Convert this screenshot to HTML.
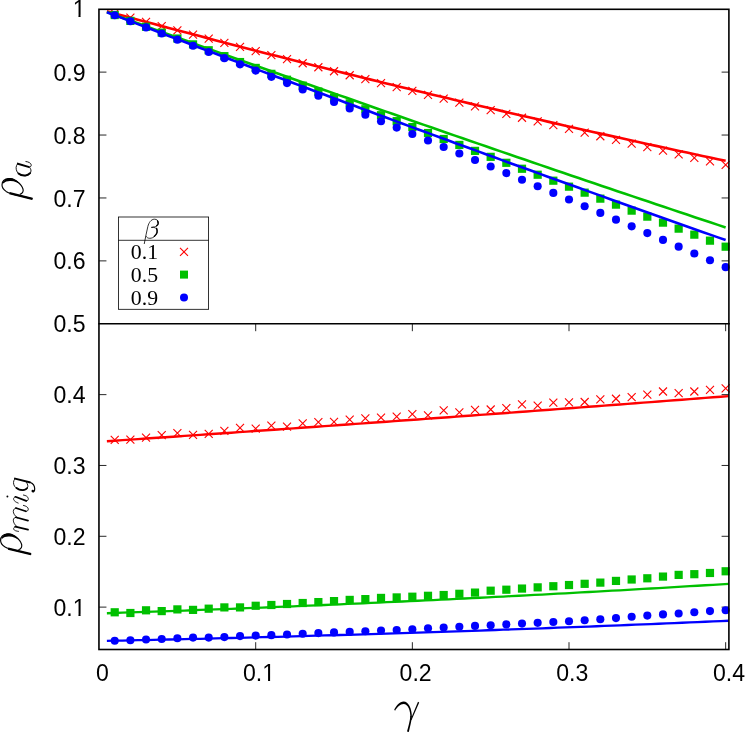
<!DOCTYPE html>
<html><head><meta charset="utf-8"><title>chart</title>
<style>html,body{margin:0;padding:0;background:#fff;overflow:hidden}svg{display:block;will-change:transform}</style>
</head><body>
<svg width="747" height="734" viewBox="0 0 747 734">
<rect width="747" height="734" fill="#fff"/>
<g stroke="#000" stroke-width="0.85" fill="none">
<path d="M99.05 72.12h7.4M729.00 72.12h-7.4"/>
<path d="M99.05 135.04h7.4M729.00 135.04h-7.4"/>
<path d="M99.05 197.96h7.4M729.00 197.96h-7.4"/>
<path d="M99.05 260.88h7.4M729.00 260.88h-7.4"/>
<path d="M99.05 394.63h7.4M729.00 394.63h-7.4"/>
<path d="M99.05 465.46h7.4M729.00 465.46h-7.4"/>
<path d="M99.05 536.29h7.4M729.00 536.29h-7.4"/>
<path d="M99.05 607.12h7.4M729.00 607.12h-7.4"/>
<path d="M255.70 649.60v-7.4M255.70 323.80v7.4"/>
<path d="M412.35 649.60v-7.4M412.35 323.80v7.4"/>
<path d="M569.00 649.60v-7.4M569.00 323.80v7.4"/>
<path d="M725.65 649.60v-7.4M725.65 323.80v7.4"/>
</g>
<polyline points="106.88,11.33 114.62,13.42 122.35,15.51 130.09,17.60 137.82,19.68 145.56,21.75 153.29,23.82 161.02,25.88 168.76,27.94 176.49,29.99 184.23,32.03 191.96,34.07 199.70,36.10 207.43,38.13 215.17,40.15 222.90,42.17 230.64,44.18 238.37,46.18 246.11,48.18 253.84,50.17 261.57,52.16 269.31,54.14 277.04,56.11 284.78,58.08 292.51,60.05 300.25,62.00 307.98,63.96 315.72,65.90 323.45,67.84 331.19,69.78 338.92,71.71 346.65,73.63 354.39,75.55 362.12,77.46 369.86,79.37 377.59,81.27 385.33,83.16 393.06,85.05 400.80,86.94 408.53,88.81 416.27,90.68 424.00,92.55 431.74,94.41 439.47,96.27 447.20,98.11 454.94,99.96 462.67,101.79 470.41,103.63 478.14,105.45 485.88,107.27 493.61,109.09 501.35,110.89 509.08,112.70 516.82,114.49 524.55,116.28 532.29,118.07 540.02,119.85 547.75,121.62 555.49,123.39 563.22,125.15 570.96,126.91 578.69,128.66 586.43,130.41 594.16,132.15 601.90,133.88 609.63,135.61 617.37,137.33 625.10,139.05 632.83,140.76 640.57,142.46 648.30,144.16 656.04,145.86 663.77,147.54 671.51,149.22 679.24,150.90 686.98,152.57 694.71,154.24 702.45,155.90 710.18,157.55 717.92,159.20 725.65,160.84" fill="none" stroke="#ff0000" stroke-width="2.60" stroke-linecap="butt" stroke-linejoin="round"/>
<path d="M110.72 9.48L118.72 17.48M110.72 17.48L118.72 9.48" stroke="#ff0000" stroke-width="1.10" fill="none"/>
<path d="M126.38 13.73L134.38 21.73M126.38 21.73L134.38 13.73" stroke="#ff0000" stroke-width="1.10" fill="none"/>
<path d="M142.04 17.97L150.04 25.97M142.04 25.97L150.04 17.97" stroke="#ff0000" stroke-width="1.10" fill="none"/>
<path d="M157.71 22.18L165.71 30.18M157.71 30.18L165.71 22.18" stroke="#ff0000" stroke-width="1.10" fill="none"/>
<path d="M173.38 26.38L181.38 34.38M173.38 34.38L181.38 26.38" stroke="#ff0000" stroke-width="1.10" fill="none"/>
<path d="M189.04 30.56L197.04 38.56M189.04 38.56L197.04 30.56" stroke="#ff0000" stroke-width="1.10" fill="none"/>
<path d="M204.71 34.71L212.71 42.71M204.71 42.71L212.71 34.71" stroke="#ff0000" stroke-width="1.10" fill="none"/>
<path d="M220.37 38.85L228.37 46.85M220.37 46.85L228.37 38.85" stroke="#ff0000" stroke-width="1.10" fill="none"/>
<path d="M236.03 42.97L244.03 50.97M236.03 50.97L244.03 42.97" stroke="#ff0000" stroke-width="1.10" fill="none"/>
<path d="M251.70 47.07L259.70 55.07M251.70 55.07L259.70 47.07" stroke="#ff0000" stroke-width="1.10" fill="none"/>
<path d="M267.37 51.15L275.37 59.15M267.37 59.15L275.37 51.15" stroke="#ff0000" stroke-width="1.10" fill="none"/>
<path d="M283.03 55.20L291.03 63.20M283.03 63.20L291.03 55.20" stroke="#ff0000" stroke-width="1.10" fill="none"/>
<path d="M298.69 59.24L306.69 67.24M298.69 67.24L306.69 59.24" stroke="#ff0000" stroke-width="1.10" fill="none"/>
<path d="M314.36 63.26L322.36 71.26M314.36 71.26L322.36 63.26" stroke="#ff0000" stroke-width="1.10" fill="none"/>
<path d="M330.02 67.26L338.02 75.26M330.02 75.26L338.02 67.26" stroke="#ff0000" stroke-width="1.10" fill="none"/>
<path d="M345.69 71.24L353.69 79.24M345.69 79.24L353.69 71.24" stroke="#ff0000" stroke-width="1.10" fill="none"/>
<path d="M361.36 75.21L369.36 83.21M361.36 83.21L369.36 75.21" stroke="#ff0000" stroke-width="1.10" fill="none"/>
<path d="M377.02 79.15L385.02 87.15M377.02 87.15L385.02 79.15" stroke="#ff0000" stroke-width="1.10" fill="none"/>
<path d="M392.69 83.07L400.69 91.07M392.69 91.07L400.69 83.07" stroke="#ff0000" stroke-width="1.10" fill="none"/>
<path d="M408.35 86.97L416.35 94.97M408.35 94.97L416.35 86.97" stroke="#ff0000" stroke-width="1.10" fill="none"/>
<path d="M424.01 90.85L432.01 98.85M424.01 98.85L432.01 90.85" stroke="#ff0000" stroke-width="1.10" fill="none"/>
<path d="M439.68 94.72L447.68 102.72M439.68 102.72L447.68 94.72" stroke="#ff0000" stroke-width="1.10" fill="none"/>
<path d="M455.35 98.56L463.35 106.56M455.35 106.56L463.35 98.56" stroke="#ff0000" stroke-width="1.10" fill="none"/>
<path d="M471.01 102.38L479.01 110.38M471.01 110.38L479.01 102.38" stroke="#ff0000" stroke-width="1.10" fill="none"/>
<path d="M486.68 106.19L494.68 114.19M486.68 114.19L494.68 106.19" stroke="#ff0000" stroke-width="1.10" fill="none"/>
<path d="M502.34 109.97L510.34 117.97M502.34 117.97L510.34 109.97" stroke="#ff0000" stroke-width="1.10" fill="none"/>
<path d="M518.00 113.74L526.00 121.74M518.00 121.74L526.00 113.74" stroke="#ff0000" stroke-width="1.10" fill="none"/>
<path d="M533.67 117.48L541.67 125.48M533.67 125.48L541.67 117.48" stroke="#ff0000" stroke-width="1.10" fill="none"/>
<path d="M549.33 121.21L557.33 129.21M549.33 129.21L557.33 121.21" stroke="#ff0000" stroke-width="1.10" fill="none"/>
<path d="M565.00 124.91L573.00 132.91M565.00 132.91L573.00 124.91" stroke="#ff0000" stroke-width="1.10" fill="none"/>
<path d="M580.66 128.60L588.66 136.60M580.66 136.60L588.66 128.60" stroke="#ff0000" stroke-width="1.10" fill="none"/>
<path d="M596.33 132.26L604.33 140.26M596.33 140.26L604.33 132.26" stroke="#ff0000" stroke-width="1.10" fill="none"/>
<path d="M612.00 135.91L620.00 143.91M612.00 143.91L620.00 135.91" stroke="#ff0000" stroke-width="1.10" fill="none"/>
<path d="M627.66 139.54L635.66 147.54M627.66 147.54L635.66 139.54" stroke="#ff0000" stroke-width="1.10" fill="none"/>
<path d="M643.32 143.15L651.32 151.15M643.32 151.15L651.32 143.15" stroke="#ff0000" stroke-width="1.10" fill="none"/>
<path d="M658.99 146.73L666.99 154.73M658.99 154.73L666.99 146.73" stroke="#ff0000" stroke-width="1.10" fill="none"/>
<path d="M674.65 150.30L682.65 158.30M674.65 158.30L682.65 150.30" stroke="#ff0000" stroke-width="1.10" fill="none"/>
<path d="M690.32 153.85L698.32 161.85M690.32 161.85L698.32 153.85" stroke="#ff0000" stroke-width="1.10" fill="none"/>
<path d="M705.99 157.38L713.99 165.38M705.99 165.38L713.99 157.38" stroke="#ff0000" stroke-width="1.10" fill="none"/>
<path d="M721.65 160.89L729.65 168.89M721.65 168.89L729.65 160.89" stroke="#ff0000" stroke-width="1.10" fill="none"/>
<polyline points="106.88,12.05 114.62,14.86 122.35,17.67 130.09,20.48 137.82,23.28 145.56,26.08 153.29,28.88 161.02,31.68 168.76,34.47 176.49,37.25 184.23,40.04 191.96,42.82 199.70,45.60 207.43,48.38 215.17,51.15 222.90,53.92 230.64,56.69 238.37,59.45 246.11,62.21 253.84,64.97 261.57,67.72 269.31,70.48 277.04,73.23 284.78,75.97 292.51,78.71 300.25,81.45 307.98,84.19 315.72,86.92 323.45,89.65 331.19,92.38 338.92,95.11 346.65,97.83 354.39,100.55 362.12,103.26 369.86,105.97 377.59,108.68 385.33,111.39 393.06,114.09 400.80,116.79 408.53,119.49 416.27,122.18 424.00,124.87 431.74,127.56 439.47,130.25 447.20,132.93 454.94,135.61 462.67,138.28 470.41,140.96 478.14,143.63 485.88,146.29 493.61,148.96 501.35,151.62 509.08,154.28 516.82,156.93 524.55,159.58 532.29,162.23 540.02,164.88 547.75,167.52 555.49,170.16 563.22,172.79 570.96,175.43 578.69,178.06 586.43,180.69 594.16,183.31 601.90,185.93 609.63,188.55 617.37,191.16 625.10,193.78 632.83,196.39 640.57,198.99 648.30,201.59 656.04,204.19 663.77,206.79 671.51,209.38 679.24,211.98 686.98,214.56 694.71,217.15 702.45,219.73 710.18,222.31 717.92,224.88 725.65,227.46" fill="none" stroke="#00c000" stroke-width="2.60" stroke-linecap="butt" stroke-linejoin="round"/>
<rect x="110.62" y="10.95" width="8.20" height="8.20" fill="#00c000"/>
<rect x="126.28" y="16.81" width="8.20" height="8.20" fill="#00c000"/>
<rect x="141.94" y="22.67" width="8.20" height="8.20" fill="#00c000"/>
<rect x="157.61" y="28.54" width="8.20" height="8.20" fill="#00c000"/>
<rect x="173.28" y="34.41" width="8.20" height="8.20" fill="#00c000"/>
<rect x="188.94" y="40.29" width="8.20" height="8.20" fill="#00c000"/>
<rect x="204.61" y="46.17" width="8.20" height="8.20" fill="#00c000"/>
<rect x="220.27" y="52.05" width="8.20" height="8.20" fill="#00c000"/>
<rect x="235.93" y="57.94" width="8.20" height="8.20" fill="#00c000"/>
<rect x="251.60" y="63.83" width="8.20" height="8.20" fill="#00c000"/>
<rect x="267.26" y="69.73" width="8.20" height="8.20" fill="#00c000"/>
<rect x="282.93" y="75.63" width="8.20" height="8.20" fill="#00c000"/>
<rect x="298.59" y="81.53" width="8.20" height="8.20" fill="#00c000"/>
<rect x="314.26" y="87.44" width="8.20" height="8.20" fill="#00c000"/>
<rect x="329.92" y="93.35" width="8.20" height="8.20" fill="#00c000"/>
<rect x="345.59" y="99.27" width="8.20" height="8.20" fill="#00c000"/>
<rect x="361.25" y="105.19" width="8.20" height="8.20" fill="#00c000"/>
<rect x="376.92" y="111.12" width="8.20" height="8.20" fill="#00c000"/>
<rect x="392.58" y="117.05" width="8.20" height="8.20" fill="#00c000"/>
<rect x="408.25" y="122.99" width="8.20" height="8.20" fill="#00c000"/>
<rect x="423.91" y="128.93" width="8.20" height="8.20" fill="#00c000"/>
<rect x="439.58" y="134.87" width="8.20" height="8.20" fill="#00c000"/>
<rect x="455.25" y="140.82" width="8.20" height="8.20" fill="#00c000"/>
<rect x="470.91" y="146.77" width="8.20" height="8.20" fill="#00c000"/>
<rect x="486.57" y="152.73" width="8.20" height="8.20" fill="#00c000"/>
<rect x="502.24" y="158.69" width="8.20" height="8.20" fill="#00c000"/>
<rect x="517.90" y="164.65" width="8.20" height="8.20" fill="#00c000"/>
<rect x="533.57" y="170.62" width="8.20" height="8.20" fill="#00c000"/>
<rect x="549.23" y="176.59" width="8.20" height="8.20" fill="#00c000"/>
<rect x="564.90" y="182.57" width="8.20" height="8.20" fill="#00c000"/>
<rect x="580.56" y="188.55" width="8.20" height="8.20" fill="#00c000"/>
<rect x="596.23" y="194.54" width="8.20" height="8.20" fill="#00c000"/>
<rect x="611.89" y="200.53" width="8.20" height="8.20" fill="#00c000"/>
<rect x="627.56" y="206.53" width="8.20" height="8.20" fill="#00c000"/>
<rect x="643.22" y="212.53" width="8.20" height="8.20" fill="#00c000"/>
<rect x="658.89" y="218.53" width="8.20" height="8.20" fill="#00c000"/>
<rect x="674.55" y="224.54" width="8.20" height="8.20" fill="#00c000"/>
<rect x="690.22" y="230.55" width="8.20" height="8.20" fill="#00c000"/>
<rect x="705.88" y="236.56" width="8.20" height="8.20" fill="#00c000"/>
<rect x="721.55" y="242.59" width="8.20" height="8.20" fill="#00c000"/>
<polyline points="106.88,12.22 114.62,15.19 122.35,18.16 130.09,21.13 137.82,24.09 145.56,27.06 153.29,30.01 161.02,32.97 168.76,35.92 176.49,38.87 184.23,41.82 191.96,44.76 199.70,47.70 207.43,50.63 215.17,53.57 222.90,56.50 230.64,59.42 238.37,62.35 246.11,65.27 253.84,68.18 261.57,71.10 269.31,74.01 277.04,76.92 284.78,79.82 292.51,82.72 300.25,85.62 307.98,88.51 315.72,91.41 323.45,94.29 331.19,97.18 338.92,100.06 346.65,102.94 354.39,105.82 362.12,108.69 369.86,111.56 377.59,114.42 385.33,117.29 393.06,120.15 400.80,123.00 408.53,125.86 416.27,128.71 424.00,131.55 431.74,134.40 439.47,137.24 447.20,140.07 454.94,142.91 462.67,145.74 470.41,148.57 478.14,151.39 485.88,154.21 493.61,157.03 501.35,159.85 509.08,162.66 516.82,165.47 524.55,168.27 532.29,171.07 540.02,173.87 547.75,176.67 555.49,179.46 563.22,182.25 570.96,185.04 578.69,187.82 586.43,190.60 594.16,193.38 601.90,196.15 609.63,198.92 617.37,201.69 625.10,204.45 632.83,207.21 640.57,209.97 648.30,212.72 656.04,215.47 663.77,218.22 671.51,220.97 679.24,223.71 686.98,226.45 694.71,229.18 702.45,231.91 710.18,234.64 717.92,237.37 725.65,240.09" fill="none" stroke="#0000ff" stroke-width="2.60" stroke-linecap="butt" stroke-linejoin="round"/>
<circle cx="114.72" cy="15.24" r="4.05" fill="#0000ff"/>
<circle cx="130.38" cy="21.31" r="4.05" fill="#0000ff"/>
<circle cx="146.04" cy="27.40" r="4.05" fill="#0000ff"/>
<circle cx="161.71" cy="33.50" r="4.05" fill="#0000ff"/>
<circle cx="177.38" cy="39.63" r="4.05" fill="#0000ff"/>
<circle cx="193.04" cy="45.78" r="4.05" fill="#0000ff"/>
<circle cx="208.71" cy="51.95" r="4.05" fill="#0000ff"/>
<circle cx="224.37" cy="58.14" r="4.05" fill="#0000ff"/>
<circle cx="240.03" cy="64.35" r="4.05" fill="#0000ff"/>
<circle cx="255.70" cy="70.58" r="4.05" fill="#0000ff"/>
<circle cx="271.37" cy="76.83" r="4.05" fill="#0000ff"/>
<circle cx="287.03" cy="83.10" r="4.05" fill="#0000ff"/>
<circle cx="302.69" cy="89.40" r="4.05" fill="#0000ff"/>
<circle cx="318.36" cy="95.71" r="4.05" fill="#0000ff"/>
<circle cx="334.02" cy="102.05" r="4.05" fill="#0000ff"/>
<circle cx="349.69" cy="108.40" r="4.05" fill="#0000ff"/>
<circle cx="365.36" cy="114.78" r="4.05" fill="#0000ff"/>
<circle cx="381.02" cy="121.18" r="4.05" fill="#0000ff"/>
<circle cx="396.69" cy="127.59" r="4.05" fill="#0000ff"/>
<circle cx="412.35" cy="134.03" r="4.05" fill="#0000ff"/>
<circle cx="428.01" cy="140.49" r="4.05" fill="#0000ff"/>
<circle cx="443.68" cy="146.97" r="4.05" fill="#0000ff"/>
<circle cx="459.35" cy="153.47" r="4.05" fill="#0000ff"/>
<circle cx="475.01" cy="160.00" r="4.05" fill="#0000ff"/>
<circle cx="490.68" cy="166.54" r="4.05" fill="#0000ff"/>
<circle cx="506.34" cy="173.10" r="4.05" fill="#0000ff"/>
<circle cx="522.00" cy="179.69" r="4.05" fill="#0000ff"/>
<circle cx="537.67" cy="186.29" r="4.05" fill="#0000ff"/>
<circle cx="553.33" cy="192.92" r="4.05" fill="#0000ff"/>
<circle cx="569.00" cy="199.56" r="4.05" fill="#0000ff"/>
<circle cx="584.66" cy="206.23" r="4.05" fill="#0000ff"/>
<circle cx="600.33" cy="212.92" r="4.05" fill="#0000ff"/>
<circle cx="616.00" cy="219.63" r="4.05" fill="#0000ff"/>
<circle cx="631.66" cy="226.36" r="4.05" fill="#0000ff"/>
<circle cx="647.32" cy="233.11" r="4.05" fill="#0000ff"/>
<circle cx="662.99" cy="239.88" r="4.05" fill="#0000ff"/>
<circle cx="678.65" cy="246.67" r="4.05" fill="#0000ff"/>
<circle cx="694.32" cy="253.48" r="4.05" fill="#0000ff"/>
<circle cx="709.99" cy="260.32" r="4.05" fill="#0000ff"/>
<circle cx="725.65" cy="267.17" r="4.05" fill="#0000ff"/>
<polyline points="106.88,441.20 114.65,440.68 122.43,440.15 130.20,439.63 137.97,439.10 145.74,438.57 153.51,438.04 161.29,437.51 169.06,436.98 176.83,436.45 184.60,435.91 192.37,435.38 200.14,434.84 207.92,434.31 215.69,433.77 223.46,433.23 231.23,432.69 239.00,432.15 246.77,431.61 254.55,431.06 262.32,430.52 270.09,429.98 277.86,429.43 285.63,428.88 293.41,428.34 301.18,427.79 308.95,427.24 316.72,426.69 324.49,426.14 332.26,425.58 340.04,425.03 347.81,424.48 355.58,423.92 363.35,423.36 371.12,422.81 378.90,422.25 386.67,421.69 394.44,421.13 402.21,420.57 409.98,420.01 417.75,419.44 425.53,418.88 433.30,418.31 441.07,417.75 448.84,417.18 456.61,416.61 464.39,416.04 472.16,415.47 479.93,414.90 487.70,414.33 495.47,413.75 503.24,413.18 511.02,412.60 518.79,412.03 526.56,411.45 534.33,410.87 542.10,410.29 549.87,409.71 557.65,409.13 565.42,408.55 573.19,407.97 580.96,407.38 588.73,406.80 596.51,406.21 604.28,405.62 612.05,405.04 619.82,404.45 627.59,403.86 635.36,403.27 643.14,402.67 650.91,402.08 658.68,401.49 666.45,400.89 674.22,400.30 682.00,399.70 689.77,399.10 697.54,398.50 705.31,397.90 713.08,397.30 720.85,396.70 728.63,396.10" fill="none" stroke="#ff0000" stroke-width="2.40" stroke-linecap="butt" stroke-linejoin="round"/>
<path d="M110.72 435.96L118.72 443.96M110.72 443.96L118.72 435.96" stroke="#ff0000" stroke-width="1.10" fill="none"/>
<path d="M126.38 435.54L134.38 443.54M126.38 443.54L134.38 435.54" stroke="#ff0000" stroke-width="1.10" fill="none"/>
<path d="M142.04 433.55L150.04 441.55M142.04 441.55L150.04 433.55" stroke="#ff0000" stroke-width="1.10" fill="none"/>
<path d="M157.71 431.14L165.71 439.14M157.71 439.14L165.71 431.14" stroke="#ff0000" stroke-width="1.10" fill="none"/>
<path d="M173.38 429.23L181.38 437.23M173.38 437.23L181.38 429.23" stroke="#ff0000" stroke-width="1.10" fill="none"/>
<path d="M189.04 430.93L197.04 438.93M189.04 438.93L197.04 430.93" stroke="#ff0000" stroke-width="1.10" fill="none"/>
<path d="M204.71 429.94L212.71 437.94M204.71 437.94L212.71 429.94" stroke="#ff0000" stroke-width="1.10" fill="none"/>
<path d="M220.37 426.82L228.37 434.82M220.37 434.82L228.37 426.82" stroke="#ff0000" stroke-width="1.10" fill="none"/>
<path d="M236.03 423.92L244.03 431.92M236.03 431.92L244.03 423.92" stroke="#ff0000" stroke-width="1.10" fill="none"/>
<path d="M251.70 424.63L259.70 432.63M251.70 432.63L259.70 424.63" stroke="#ff0000" stroke-width="1.10" fill="none"/>
<path d="M267.37 421.65L275.37 429.65M267.37 429.65L275.37 421.65" stroke="#ff0000" stroke-width="1.10" fill="none"/>
<path d="M283.03 422.65L291.03 430.65M283.03 430.65L291.03 422.65" stroke="#ff0000" stroke-width="1.10" fill="none"/>
<path d="M298.69 419.32L306.69 427.32M298.69 427.32L306.69 419.32" stroke="#ff0000" stroke-width="1.10" fill="none"/>
<path d="M314.36 418.04L322.36 426.04M314.36 426.04L322.36 418.04" stroke="#ff0000" stroke-width="1.10" fill="none"/>
<path d="M330.02 417.83L338.02 425.83M330.02 425.83L338.02 417.83" stroke="#ff0000" stroke-width="1.10" fill="none"/>
<path d="M345.69 415.63L353.69 423.63M345.69 423.63L353.69 415.63" stroke="#ff0000" stroke-width="1.10" fill="none"/>
<path d="M361.36 414.43L369.36 422.43M361.36 422.43L369.36 414.43" stroke="#ff0000" stroke-width="1.10" fill="none"/>
<path d="M377.02 413.72L385.02 421.72M377.02 421.72L385.02 413.72" stroke="#ff0000" stroke-width="1.10" fill="none"/>
<path d="M392.69 412.52L400.69 420.52M392.69 420.52L400.69 412.52" stroke="#ff0000" stroke-width="1.10" fill="none"/>
<path d="M408.35 410.11L416.35 418.11M408.35 418.11L416.35 410.11" stroke="#ff0000" stroke-width="1.10" fill="none"/>
<path d="M424.01 411.45L432.01 419.45M424.01 419.45L432.01 411.45" stroke="#ff0000" stroke-width="1.10" fill="none"/>
<path d="M439.68 406.43L447.68 414.43M439.68 414.43L447.68 406.43" stroke="#ff0000" stroke-width="1.10" fill="none"/>
<path d="M455.35 408.34L463.35 416.34M455.35 416.34L463.35 408.34" stroke="#ff0000" stroke-width="1.10" fill="none"/>
<path d="M471.01 405.93L479.01 413.93M471.01 413.93L479.01 405.93" stroke="#ff0000" stroke-width="1.10" fill="none"/>
<path d="M486.68 405.50L494.68 413.50M486.68 413.50L494.68 405.50" stroke="#ff0000" stroke-width="1.10" fill="none"/>
<path d="M502.34 404.02L510.34 412.02M502.34 412.02L510.34 404.02" stroke="#ff0000" stroke-width="1.10" fill="none"/>
<path d="M518.00 400.40L526.00 408.40M518.00 408.40L526.00 400.40" stroke="#ff0000" stroke-width="1.10" fill="none"/>
<path d="M533.67 401.61L541.67 409.61M533.67 409.61L541.67 401.61" stroke="#ff0000" stroke-width="1.10" fill="none"/>
<path d="M549.33 398.70L557.33 406.70M549.33 406.70L557.33 398.70" stroke="#ff0000" stroke-width="1.10" fill="none"/>
<path d="M565.00 398.28L573.00 406.28M565.00 406.28L573.00 398.28" stroke="#ff0000" stroke-width="1.10" fill="none"/>
<path d="M580.66 398.00L588.66 406.00M580.66 406.00L588.66 398.00" stroke="#ff0000" stroke-width="1.10" fill="none"/>
<path d="M596.33 395.38L604.33 403.38M596.33 403.38L604.33 395.38" stroke="#ff0000" stroke-width="1.10" fill="none"/>
<path d="M612.00 394.74L620.00 402.74M612.00 402.74L620.00 394.74" stroke="#ff0000" stroke-width="1.10" fill="none"/>
<path d="M627.66 393.04L635.66 401.04M627.66 401.04L635.66 393.04" stroke="#ff0000" stroke-width="1.10" fill="none"/>
<path d="M643.32 390.63L651.32 398.63M643.32 398.63L651.32 390.63" stroke="#ff0000" stroke-width="1.10" fill="none"/>
<path d="M658.99 387.51L666.99 395.51M658.99 395.51L666.99 387.51" stroke="#ff0000" stroke-width="1.10" fill="none"/>
<path d="M674.65 389.21L682.65 397.21M674.65 397.21L682.65 389.21" stroke="#ff0000" stroke-width="1.10" fill="none"/>
<path d="M690.32 387.51L698.32 395.51M690.32 395.51L698.32 387.51" stroke="#ff0000" stroke-width="1.10" fill="none"/>
<path d="M705.99 385.81L713.99 393.81M705.99 393.81L713.99 385.81" stroke="#ff0000" stroke-width="1.10" fill="none"/>
<path d="M721.65 384.40L729.65 392.40M721.65 392.40L729.65 384.40" stroke="#ff0000" stroke-width="1.10" fill="none"/>
<polyline points="106.88,613.24 114.65,612.98 122.43,612.72 130.20,612.46 137.97,612.19 145.74,611.92 153.51,611.65 161.29,611.38 169.06,611.10 176.83,610.82 184.60,610.54 192.37,610.26 200.14,609.97 207.92,609.68 215.69,609.38 223.46,609.09 231.23,608.79 239.00,608.49 246.77,608.18 254.55,607.87 262.32,607.56 270.09,607.25 277.86,606.94 285.63,606.62 293.41,606.30 301.18,605.97 308.95,605.64 316.72,605.31 324.49,604.98 332.26,604.65 340.04,604.31 347.81,603.97 355.58,603.62 363.35,603.28 371.12,602.93 378.90,602.58 386.67,602.22 394.44,601.86 402.21,601.50 409.98,601.14 417.75,600.77 425.53,600.41 433.30,600.03 441.07,599.66 448.84,599.28 456.61,598.90 464.39,598.52 472.16,598.13 479.93,597.75 487.70,597.35 495.47,596.96 503.24,596.56 511.02,596.16 518.79,595.76 526.56,595.36 534.33,594.95 542.10,594.54 549.87,594.12 557.65,593.71 565.42,593.29 573.19,592.87 580.96,592.44 588.73,592.02 596.51,591.59 604.28,591.15 612.05,590.72 619.82,590.28 627.59,589.84 635.36,589.39 643.14,588.95 650.91,588.50 658.68,588.04 666.45,587.59 674.22,587.13 682.00,586.67 689.77,586.21 697.54,585.74 705.31,585.27 713.08,584.80 720.85,584.32 728.63,583.85" fill="none" stroke="#00c000" stroke-width="2.30" stroke-linecap="butt" stroke-linejoin="round"/>
<rect x="110.62" y="608.19" width="8.20" height="8.20" fill="#00c000"/>
<rect x="126.28" y="608.90" width="8.20" height="8.20" fill="#00c000"/>
<rect x="141.94" y="606.21" width="8.20" height="8.20" fill="#00c000"/>
<rect x="157.61" y="606.99" width="8.20" height="8.20" fill="#00c000"/>
<rect x="173.28" y="605.29" width="8.20" height="8.20" fill="#00c000"/>
<rect x="188.94" y="605.78" width="8.20" height="8.20" fill="#00c000"/>
<rect x="204.61" y="604.58" width="8.20" height="8.20" fill="#00c000"/>
<rect x="220.27" y="603.30" width="8.20" height="8.20" fill="#00c000"/>
<rect x="235.93" y="603.30" width="8.20" height="8.20" fill="#00c000"/>
<rect x="251.60" y="601.67" width="8.20" height="8.20" fill="#00c000"/>
<rect x="267.26" y="600.90" width="8.20" height="8.20" fill="#00c000"/>
<rect x="282.93" y="599.90" width="8.20" height="8.20" fill="#00c000"/>
<rect x="298.59" y="598.91" width="8.20" height="8.20" fill="#00c000"/>
<rect x="314.26" y="597.99" width="8.20" height="8.20" fill="#00c000"/>
<rect x="329.92" y="597.00" width="8.20" height="8.20" fill="#00c000"/>
<rect x="345.59" y="595.80" width="8.20" height="8.20" fill="#00c000"/>
<rect x="361.25" y="595.02" width="8.20" height="8.20" fill="#00c000"/>
<rect x="376.92" y="593.81" width="8.20" height="8.20" fill="#00c000"/>
<rect x="392.58" y="593.32" width="8.20" height="8.20" fill="#00c000"/>
<rect x="408.25" y="592.61" width="8.20" height="8.20" fill="#00c000"/>
<rect x="423.91" y="591.69" width="8.20" height="8.20" fill="#00c000"/>
<rect x="439.58" y="590.91" width="8.20" height="8.20" fill="#00c000"/>
<rect x="455.25" y="589.70" width="8.20" height="8.20" fill="#00c000"/>
<rect x="470.91" y="588.50" width="8.20" height="8.20" fill="#00c000"/>
<rect x="486.57" y="586.59" width="8.20" height="8.20" fill="#00c000"/>
<rect x="502.24" y="585.60" width="8.20" height="8.20" fill="#00c000"/>
<rect x="517.90" y="584.46" width="8.20" height="8.20" fill="#00c000"/>
<rect x="533.57" y="583.26" width="8.20" height="8.20" fill="#00c000"/>
<rect x="549.23" y="582.13" width="8.20" height="8.20" fill="#00c000"/>
<rect x="564.90" y="580.92" width="8.20" height="8.20" fill="#00c000"/>
<rect x="580.56" y="579.72" width="8.20" height="8.20" fill="#00c000"/>
<rect x="596.23" y="578.51" width="8.20" height="8.20" fill="#00c000"/>
<rect x="611.89" y="576.81" width="8.20" height="8.20" fill="#00c000"/>
<rect x="627.56" y="575.40" width="8.20" height="8.20" fill="#00c000"/>
<rect x="643.22" y="574.19" width="8.20" height="8.20" fill="#00c000"/>
<rect x="658.89" y="572.49" width="8.20" height="8.20" fill="#00c000"/>
<rect x="674.55" y="570.79" width="8.20" height="8.20" fill="#00c000"/>
<rect x="690.22" y="570.08" width="8.20" height="8.20" fill="#00c000"/>
<rect x="705.88" y="568.88" width="8.20" height="8.20" fill="#00c000"/>
<rect x="721.55" y="567.18" width="8.20" height="8.20" fill="#00c000"/>
<polyline points="106.88,640.89 114.65,640.72 122.43,640.56 130.20,640.39 137.97,640.22 145.74,640.05 153.51,639.87 161.29,639.70 169.06,639.52 176.83,639.34 184.60,639.16 192.37,638.97 200.14,638.78 207.92,638.59 215.69,638.40 223.46,638.21 231.23,638.01 239.00,637.81 246.77,637.61 254.55,637.41 262.32,637.20 270.09,636.99 277.86,636.78 285.63,636.57 293.41,636.36 301.18,636.14 308.95,635.92 316.72,635.70 324.49,635.47 332.26,635.25 340.04,635.02 347.81,634.79 355.58,634.56 363.35,634.32 371.12,634.09 378.90,633.85 386.67,633.61 394.44,633.36 402.21,633.12 409.98,632.87 417.75,632.62 425.53,632.36 433.30,632.11 441.07,631.85 448.84,631.59 456.61,631.33 464.39,631.07 472.16,630.80 479.93,630.53 487.70,630.26 495.47,629.99 503.24,629.71 511.02,629.44 518.79,629.16 526.56,628.87 534.33,628.59 542.10,628.30 549.87,628.02 557.65,627.72 565.42,627.43 573.19,627.14 580.96,626.84 588.73,626.54 596.51,626.24 604.28,625.93 612.05,625.62 619.82,625.32 627.59,625.00 635.36,624.69 643.14,624.38 650.91,624.06 658.68,623.74 666.45,623.42 674.22,623.09 682.00,622.76 689.77,622.44 697.54,622.10 705.31,621.77 713.08,621.43 720.85,621.10 728.63,620.76" fill="none" stroke="#0000ff" stroke-width="2.30" stroke-linecap="butt" stroke-linejoin="round"/>
<circle cx="114.72" cy="640.69" r="4.05" fill="#0000ff"/>
<circle cx="130.38" cy="640.20" r="4.05" fill="#0000ff"/>
<circle cx="146.04" cy="639.49" r="4.05" fill="#0000ff"/>
<circle cx="161.71" cy="638.99" r="4.05" fill="#0000ff"/>
<circle cx="177.38" cy="638.29" r="4.05" fill="#0000ff"/>
<circle cx="193.04" cy="637.58" r="4.05" fill="#0000ff"/>
<circle cx="208.71" cy="637.58" r="4.05" fill="#0000ff"/>
<circle cx="224.37" cy="637.08" r="4.05" fill="#0000ff"/>
<circle cx="240.03" cy="636.09" r="4.05" fill="#0000ff"/>
<circle cx="255.70" cy="635.59" r="4.05" fill="#0000ff"/>
<circle cx="271.37" cy="635.17" r="4.05" fill="#0000ff"/>
<circle cx="287.03" cy="634.46" r="4.05" fill="#0000ff"/>
<circle cx="302.69" cy="633.75" r="4.05" fill="#0000ff"/>
<circle cx="318.36" cy="633.11" r="4.05" fill="#0000ff"/>
<circle cx="334.02" cy="632.41" r="4.05" fill="#0000ff"/>
<circle cx="349.69" cy="631.91" r="4.05" fill="#0000ff"/>
<circle cx="365.36" cy="631.20" r="4.05" fill="#0000ff"/>
<circle cx="381.02" cy="630.49" r="4.05" fill="#0000ff"/>
<circle cx="396.69" cy="630.00" r="4.05" fill="#0000ff"/>
<circle cx="412.35" cy="629.29" r="4.05" fill="#0000ff"/>
<circle cx="428.01" cy="628.30" r="4.05" fill="#0000ff"/>
<circle cx="443.68" cy="627.59" r="4.05" fill="#0000ff"/>
<circle cx="459.35" cy="626.81" r="4.05" fill="#0000ff"/>
<circle cx="475.01" cy="625.89" r="4.05" fill="#0000ff"/>
<circle cx="490.68" cy="625.18" r="4.05" fill="#0000ff"/>
<circle cx="506.34" cy="624.40" r="4.05" fill="#0000ff"/>
<circle cx="522.00" cy="623.62" r="4.05" fill="#0000ff"/>
<circle cx="537.67" cy="622.84" r="4.05" fill="#0000ff"/>
<circle cx="553.33" cy="621.99" r="4.05" fill="#0000ff"/>
<circle cx="569.00" cy="621.22" r="4.05" fill="#0000ff"/>
<circle cx="584.66" cy="620.22" r="4.05" fill="#0000ff"/>
<circle cx="600.33" cy="619.30" r="4.05" fill="#0000ff"/>
<circle cx="616.00" cy="618.10" r="4.05" fill="#0000ff"/>
<circle cx="631.66" cy="616.82" r="4.05" fill="#0000ff"/>
<circle cx="647.32" cy="615.62" r="4.05" fill="#0000ff"/>
<circle cx="662.99" cy="614.42" r="4.05" fill="#0000ff"/>
<circle cx="678.65" cy="613.49" r="4.05" fill="#0000ff"/>
<circle cx="694.32" cy="612.29" r="4.05" fill="#0000ff"/>
<circle cx="709.99" cy="611.09" r="4.05" fill="#0000ff"/>
<circle cx="725.65" cy="610.31" r="4.05" fill="#0000ff"/>
<g stroke="#000" stroke-width="1.6" fill="none" stroke-linecap="square">
<rect x="98.95" y="9.30" width="629.95" height="640.20"/>
<path d="M99.05 323.80H729.00"/>
</g>
<g font-family="'Liberation Sans', sans-serif" font-size="24.2" fill="#000">
<text transform="translate(85.6,16.60) scale(0.954,1)" text-anchor="end">1</text>
<text transform="translate(85.6,80.72) scale(0.954,1)" text-anchor="end">0.9</text>
<text transform="translate(85.6,143.64) scale(0.954,1)" text-anchor="end">0.8</text>
<text transform="translate(85.6,206.56) scale(0.954,1)" text-anchor="end">0.7</text>
<text transform="translate(85.6,269.48) scale(0.954,1)" text-anchor="end">0.6</text>
<text transform="translate(85.6,332.40) scale(0.954,1)" text-anchor="end">0.5</text>
<text transform="translate(85.6,403.23) scale(0.954,1)" text-anchor="end">0.4</text>
<text transform="translate(85.6,474.06) scale(0.954,1)" text-anchor="end">0.3</text>
<text transform="translate(85.6,544.89) scale(0.954,1)" text-anchor="end">0.2</text>
<text transform="translate(85.6,615.72) scale(0.954,1)" text-anchor="end">0.1</text>
<text transform="translate(102.35,680.8) scale(0.954,1)" text-anchor="middle">0</text>
<text transform="translate(259.00,680.8) scale(0.954,1)" text-anchor="middle">0.1</text>
<text transform="translate(415.65,680.8) scale(0.954,1)" text-anchor="middle">0.2</text>
<text transform="translate(572.30,680.8) scale(0.954,1)" text-anchor="middle">0.3</text>
<text transform="translate(728.95,680.8) scale(0.954,1)" text-anchor="middle">0.4</text>
</g>
<g fill="#fff">
<rect x="73" y="14.9" width="5.45" height="2.3"/><rect x="80.58" y="14.9" width="5.5" height="2.3"/>
<rect x="73" y="613.9" width="5.45" height="2.3"/><rect x="80.58" y="613.9" width="5.5" height="2.3"/>
<rect x="262.3" y="678.9" width="5.75" height="2.3"/><rect x="270.1" y="678.9" width="5.3" height="2.3"/>
</g>
<g stroke="#000" stroke-width="0.8" fill="none">
<rect x="118.4" y="217" width="90.2" height="92.3" fill="#fff"/>
<path d="M118.4 240.3H208.6"/>
</g>
<g font-family="'Liberation Serif', serif" font-size="21.5" fill="#000">
<text transform="translate(144.4,258.7) scale(1.015,1)" text-anchor="middle">0.1</text>
<text transform="translate(144.4,281.8) scale(1.015,1)" text-anchor="middle">0.5</text>
<text transform="translate(144.4,304.8) scale(1.015,1)" text-anchor="middle">0.9</text>
</g>
<path d="M180.00 247.90L188.00 255.90M180.00 255.90L188.00 247.90" stroke="#ff0000" stroke-width="1.10" fill="none"/>
<rect x="180.00" y="270.60" width="8.00" height="8.00" fill="#00c000"/>
<circle cx="184.00" cy="297.60" r="4.00" fill="#0000ff"/>
<g id="beta" fill="none" stroke="#000" stroke-linecap="round" stroke-linejoin="round">
<path stroke-width="0.8" d="M144.3 243.6L146 234.9L147.9 226.3C148.8 222.8 151 219.3 154.3 219.2C156.8 219.1 158.4 220.7 158.4 223C158.4 225.4 156 227 151.3 227.4C154 226.8 157.2 228 157.2 231.1C157.2 235 153.5 238.3 149.8 238.3C148 238.3 146.8 237.6 146.3 236.6"/>
<path stroke-width="1.25" d="M157.6 220.9C158.4 222.6 158 224.6 156.6 225.8"/>
<path stroke-width="1.35" d="M156.6 228.4C157.8 231 156.6 234.3 154.2 236.4"/>
</g>
<g id="gam" fill="#000" stroke="none">
<path d="M394.2 709.8C396.3 705.5 399.8 701.5 403.6 701.5C408.5 701.5 411.9 708.5 411.9 716.8L410.4 717.6C410.4 710.8 408.3 704.1 403.5 704.1C400.3 704.1 397.2 707.3 395.1 710.7Z"/>
<path d="M410.3 716L412 716.5C411.5 721 410 727 408.8 731.9L407 731.4C408.5 726 410 721 410.3 716Z"/>
<path d="M418 701.8L419.2 702.4L411.6 720L410.6 719.5Z"/>
</g>
<g id="rhoa"><path fill="none" stroke="#000" stroke-width="1.15" stroke-linejoin="round" d="M32.7 198.9L20.4 195.9C16 195 9.5 193.5 6.1 191.4C3.8 189.8 2 187.5 2 185C2 181.5 4.5 178.8 9 178.6C14 178.5 19 182.5 21.1 185.3C23 188 23.6 190.5 22.8 192.1C22.2 193.5 21 194.2 19.8 194.4"/><path fill="none" stroke="#000" stroke-width="2.3" d="M9.5 193.2L32.4 198.8"/><path fill="#000" d="M2.6 182.6C4.2 179.2 7.3 177.7 10.5 177.9C14.6 178.2 18.6 181.2 21.2 185.2C18.2 182.6 14.6 181.1 10.6 181C7.6 180.9 5.1 181.5 3.7 183.4Z"/></g>
<g id="rhom" transform="translate(-1.4,355.4)"><path fill="none" stroke="#000" stroke-width="1.15" stroke-linejoin="round" d="M32.7 198.9L20.4 195.9C16 195 9.5 193.5 6.1 191.4C3.8 189.8 2 187.5 2 185C2 181.5 4.5 178.8 9 178.6C14 178.5 19 182.5 21.1 185.3C23 188 23.6 190.5 22.8 192.1C22.2 193.5 21 194.2 19.8 194.4"/><path fill="none" stroke="#000" stroke-width="2.3" d="M9.5 193.2L32.4 198.8"/><path fill="#000" d="M2.6 182.6C4.2 179.2 7.3 177.7 10.5 177.9C14.6 178.2 18.6 181.2 21.2 185.2C18.2 182.6 14.6 181.1 10.6 181C7.6 180.9 5.1 181.5 3.7 183.4Z"/></g>
<g id="suba" fill="none" stroke="#000" stroke-linecap="round" stroke-linejoin="round">
<path stroke-width="1.9" stroke-linecap="butt" d="M17 163.5L29.3 167.1"/>
<path stroke-width="0.9" d="M29.3 167.1C30.6 167.2 31.4 166 31.2 164.8C30.9 163 28.5 161.8 25.9 161.5"/>
<path stroke-width="0.9" d="M17.2 164.4C15.8 166 15.6 169 17.2 172C18.8 174.6 22 175.8 25 175.7C28.3 175.6 30.8 173.8 31 171C31.1 169.5 30.3 168 29.3 167.1"/>
<path stroke-width="2.0" d="M18.5 173.5C20.5 175.2 23 175.6 25.5 175.4C27.3 175.2 29 174.4 30 173.2"/>
</g>
<g id="subm" fill="none" stroke="#000" stroke-linecap="round" stroke-linejoin="round">
<path stroke-width="0.85" d="M18.5 531.4C16.5 531.2 14.2 530.6 13.7 529.2C13.3 528 14.2 527 15.5 526.7M17.5 527.2C15 525.2 13.2 522.5 13.3 520.1C13.4 518.3 14.6 517.4 16 517.4M17.5 517.9C15 516 13.2 513.5 13.3 511.3C13.4 509.3 14.7 508.1 16.3 508.1M25.6 511.3C27 511.7 28.3 510.6 28.3 509.1C28.3 507.3 26 505.9 23.4 505.4"/>
<path stroke-width="1.7" d="M15.3 526.6L28 529.7M15.8 517.3L28 520.6M15.8 508L25.8 511.3"/>
<circle cx="7.4" cy="496.5" r="0.95" fill="#000" stroke="none"/>
<path stroke-width="1.7" d="M15.4 496.8L26.2 500.9"/>
<path stroke-width="0.85" d="M18.2 503.1C16 502.3 14 501 13.6 499.3C13.4 498 14.3 497 15.5 496.8M26.1 500.9C27.5 501.2 28.4 500 28.3 498.6C28.1 496.7 26 495.4 23.4 495"/>
<path stroke-width="1.9" stroke-linecap="butt" d="M14.1 478.4L30.5 482.5"/>
<path stroke-width="1.2" d="M30.5 482.5C32.5 483.3 34.6 486 34.7 488.7C34.8 490.3 34.3 491.3 33.6 491.8"/>
<circle cx="32.8" cy="491.1" r="1.3" fill="#000" stroke="none"/>
<path stroke-width="0.9" d="M14.5 479.5C13.3 481 13 483.5 14.5 486.2C16 488.5 19.5 490.1 22.6 490.1C25.5 490.1 27.6 488.7 27.8 486.7C28 484.8 27 482.8 25.6 481.3"/>
<path stroke-width="1.9" d="M16.5 488C18.5 489.6 21 490.2 23 490.1C24.8 490 26.2 489.4 27 488.3"/>
</g>
</svg>
</body></html>
